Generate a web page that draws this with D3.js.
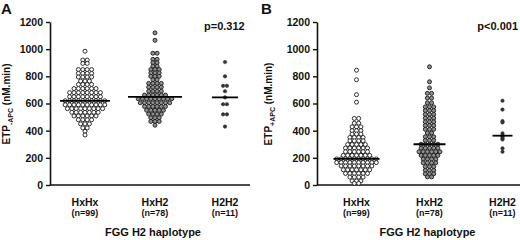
<!DOCTYPE html>
<html><head><meta charset="utf-8">
<script src="https://cdn.jsdelivr.net/npm/d3@7"></script>
<style>body{margin:0;background:#fff}svg{display:block}</style>
</head><body><svg id="c" width="520" height="240"></svg>
<script>
const categories = ["HxHx", "HxH2", "H2H2"];
const nLabels = ["(n=99)", "(n=78)", "(n=11)"];
const yTicks = [0, 200, 400, 600, 800, 1000, 1200];
const panelLetters = ["A", "B"];
const pValues = ["p=0.312", "p<0.001"];
const yTitleSub = ["-APC", "+APC"];
const xTitle = "FGG H2 haplotype";

const A_HxHx = [985, 920, 920, 895, 895, 850, 850, 850, 850, 822, 822, 822, 822, 795, 795, 795, 795,
  765, 765, 765, 740, 740, 740, 740, 710, 710, 710, 710, 710, 710,
  680, 680, 680, 680, 680, 680, 680, 680, 650, 650, 650, 650, 650, 650, 650, 650,
  620, 620, 620, 620, 620, 620, 620, 620, 620, 620, 590, 590, 590, 590, 590, 590, 590, 590, 590, 590,
  562, 562, 562, 562, 562, 562, 562, 562, 562, 535, 535, 535, 535, 535, 535, 535,
  508, 508, 508, 508, 508, 508, 480, 480, 480, 480, 450, 450, 450, 420, 420, 395, 368];
const A_HxH2 = [1120, 1065, 970, 970, 925, 925, 900, 900, 875, 875, 850, 850, 850, 825, 825, 825, 800, 800, 800,
  775, 775, 748, 748, 748, 748, 720, 720, 720, 720, 690, 690, 690, 690, 662, 662, 662, 662, 662, 662,
  635, 635, 635, 635, 635, 635, 635, 635, 635, 605, 605, 605, 605, 605, 605, 605, 605,
  578, 578, 578, 578, 578, 578, 550, 550, 550, 550, 550, 522, 522, 522, 522, 495, 495, 495, 468, 468, 468, 440];
const A_H2H2 = [905, 800, 730, 730, 690, 645, 595, 595, 520, 520, 430];
const B_HxHx = [845, 775, 665, 610, 490, 490, 455, 455, 428, 428, 428, 400, 400, 400, 375, 375, 375,
  350, 350, 350, 350, 325, 325, 325, 325, 298, 298, 298, 298, 298,
  272, 272, 272, 272, 272, 272, 245, 245, 245, 245, 245, 245, 218, 218, 218, 218, 218, 218, 218,
  192, 192, 192, 192, 192, 192, 192, 192, 192, 192, 165, 165, 165, 165, 165, 165, 165, 165, 165, 165,
  140, 140, 140, 140, 140, 140, 140, 140, 112, 112, 112, 112, 112, 112, 112,
  85, 85, 85, 85, 85, 85, 58, 58, 58, 58, 30, 30, 30, 12, 12];
const B_HxH2 = [870, 760, 715, 675, 675, 640, 640, 605, 605, 575, 575, 575, 548, 548, 548, 520, 520, 520,
  492, 492, 492, 465, 465, 465, 438, 438, 438, 410, 410, 410, 383, 383, 355, 355, 355, 328, 328, 328,
  300, 300, 300, 300, 300, 272, 272, 272, 272, 272, 245, 245, 245, 245, 245, 245,
  218, 218, 218, 218, 218, 190, 190, 190, 190, 163, 163, 163, 163, 135, 135, 135, 108, 108, 108, 82, 82, 82, 60, 60];
const B_H2H2 = [620, 555, 470, 460, 380, 363, 355, 345, 335, 270, 245];

const panels = [
  {series: [A_HxHx, A_HxH2, A_H2H2], x0: 50, x1: 250, range: [50, 260], lineHalf: [25, 27, 13], titleX: 10, letterX: 1},
  {series: [B_HxHx, B_HxH2, B_H2H2], x0: 317, x1: 520, range: [320, 539], lineHalf: [23, 16, 10], titleX: 272, letterX: 261}
];
const dotStyle = [
  {r: 2.0, fill: "#ffffff", stroke: "#1a1a1a", sw: 0.9, gap: 4.4},
  {r: 2.0, fill: "#8f8f8f", stroke: "#1a1a1a", sw: 0.9, gap: 4.2},
  {r: 1.8, fill: "#333", stroke: "#333", sw: 0.4, gap: 3.8}
];
const FONT = '"Liberation Sans",Arial,sans-serif';

const svg = d3.select("#c");
const y = d3.scaleLinear().domain([0, 1200]).range([185, 22]);

// Row-based dot layout (Prism style): identical values share a row, centred.
function rows(values, gap) {
  const groups = d3.groups(values, v => v);
  const out = [];
  groups.forEach(([v, arr]) => {
    const k = arr.length;
    arr.forEach((_, i) => out.push({v, y: y(v), x: (i - (k - 1) / 2) * gap}));
  });
  return out;
}

function txt(sel, size) {
  return sel.style("font-family", FONT).style("font-weight", "bold").style("font-size", size).attr("fill", "#111");
}

panels.forEach((P, pi) => {
  const g = svg.append("g");
  const x = d3.scalePoint().domain(categories).range(P.range).padding(0.5);

  const ax = g.append("g").attr("transform", `translate(${P.x0},0)`)
    .call(d3.axisLeft(y).tickValues(yTicks).tickFormat(d3.format("d")).tickSize(4).tickPadding(3).tickSizeOuter(0));
  ax.select(".domain").attr("stroke", "#111").attr("stroke-width", 1.6);
  ax.selectAll(".tick line").attr("stroke", "#111").attr("stroke-width", 1.4);
  txt(ax.selectAll(".tick text"), "10.5px");
  g.append("line").attr("x1", P.x0).attr("x2", P.x1).attr("y1", y(0)).attr("y2", y(0))
    .attr("stroke", "#111").attr("stroke-width", 1.6);

  P.series.forEach((vals, ci) => {
    const st = dotStyle[ci];
    const cx = x(categories[ci]);
    const pts = rows(vals, st.gap);
    g.append("g").selectAll("circle").data(pts).join("circle")
      .attr("cx", d => cx + d.x).attr("cy", d => d.y).attr("r", st.r)
      .attr("fill", st.fill).attr("stroke", st.stroke).attr("stroke-width", st.sw);
    const med = d3.median(vals);
    g.append("line").attr("x1", cx - P.lineHalf[ci]).attr("x2", cx + P.lineHalf[ci])
      .attr("y1", y(med)).attr("y2", y(med)).attr("stroke", "#000").attr("stroke-width", 1.8);
    txt(g.append("text"), "10.5px").attr("x", cx).attr("y", 206).attr("text-anchor", "middle").text(categories[ci]);
    txt(g.append("text"), "9px").attr("x", cx).attr("y", 216).attr("text-anchor", "middle").text(nLabels[ci]);
  });

  txt(g.append("text"), "11px").attr("x", x(categories[1]) - 2).attr("y", 236)
    .attr("text-anchor", "middle").text(xTitle);

  const t = txt(g.append("text"), "10px").attr("transform", `translate(${P.titleX},104) rotate(-90)`)
    .attr("text-anchor", "middle");
  t.append("tspan").text("ETP");
  t.append("tspan").attr("dy", 3).style("font-size", "7px").text(yTitleSub[pi]);
  t.append("tspan").attr("dy", -3).text(" (nM.min)");

  txt(g.append("text"), "15px").attr("x", P.letterX).attr("y", 14).text(panelLetters[pi]);

  if (pi === 0) txt(g.append("text"), "11px").attr("x", 204).attr("y", 30).text(pValues[pi]);
  else txt(g.append("text"), "11px").attr("x", 518).attr("y", 30).attr("text-anchor", "end").text(pValues[pi]);
});
</script></body></html>
